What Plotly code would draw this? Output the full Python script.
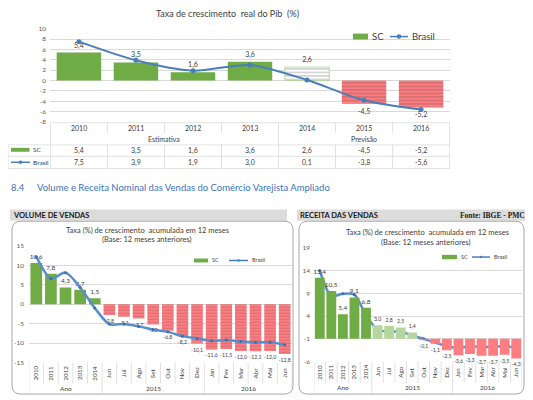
import plotly.graph_objects as go

# The page adds an 8px body margin, so the figure is sized to fit the window.
PAGE_W, PAGE_H, OFF = 533, 400, 8
W, H = PAGE_W - OFF, PAGE_H - OFF
def fx(p): return (p - OFF) / W
def fy(p): return 1 - (p - OFF) / H

# ---------------- DATA ----------------
pib_years = ["2010", "2011", "2012", "2013", "2014", "2015", "2016"]
pib_sc = [5.4, 3.5, 1.6, 3.6, 2.6, -4.5, -5.2]
pib_brasil = [7.5, 3.9, 1.9, 3.0, 0.1, -3.8, -5.6]
pib_periods = ["Estimativa", "Previsão"]
n_estimativa = 4

cat_labels = ["2010", "2011", "2012", "2013", "2014", "Jun", "Jul", "Ago", "Set",
              "Out", "Nov", "Dez", "Jan", "Fev", "Mar", "Abr", "Mai", "Jun"]
cat_groups = ["Ano"] * 5 + ["2015"] * 7 + ["2016"] * 6

vol_sc = [10.6, 7.8, 4.3, 3.7, 1.5, -2.8, -3.2, -3.7, -5.2, -6.8, -8.2, -10.1,
          -11.6, -11.5, -12.0, -12.1, -12.0, -12.8]
vol_brasil = [12.2, 6.6, 8.1, 4.3, -1.0, -5.1, -5.1, -5.7, -6.5, -7.1, -8.2, -8.8,
              -9.4, -9.2, -9.6, -9.8, -9.8, -10.4]

rec_sc = [13.4, 10.5, 5.4, 9.1, 6.8, 3.0, 2.8, 2.5, 1.4, -0.1, -1.1, -2.5,
          -3.6, -3.3, -3.7, -3.7, -3.5, -4.3]
rec_brasil = [14.0, 8.4, 8.9, 8.7, 4.2, 1.0, 0.6, 0.6, -0.3, -1.0, -1.8, -2.6,
              -3.0, -2.6, -2.8, -2.7, -2.6, -2.9]

# ---------------- STYLE ----------------
FONT = "Lato"
TXT = "#404040"
GRID = "#d9d9d9"
GREEN = "#6fac46"
LIGHT_GREEN = "#b5d79d"
HATCH_GREEN = "#a9d18e"
RED = "#ff7c80"
RED_STRIPE = "#ffb0b2"
BLUE = "#4a7ebb"

def fmt(v):
    return f"{v:.1f}".replace(".", ",")

fig = go.Figure()

# ---------------- TOP CHART ----------------
top_colors, top_shape, top_bg, top_fg, top_lw = [], [], [], [], []
for i, v in enumerate(pib_sc):
    if i < n_estimativa:
        top_colors.append(GREEN); top_shape.append(""); top_bg.append(GREEN)
        top_fg.append(GREEN); top_lw.append(0)
    elif v >= 0:
        top_colors.append("white"); top_shape.append("-"); top_bg.append("white")
        top_fg.append(HATCH_GREEN); top_lw.append(0.8)
    else:
        top_colors.append(RED); top_shape.append("-"); top_bg.append(RED)
        top_fg.append(RED_STRIPE); top_lw.append(0)

fig.add_trace(go.Bar(
    x=pib_years, y=pib_sc, xaxis="x", yaxis="y", width=0.78,
    marker=dict(color=top_colors, line=dict(width=top_lw, color=HATCH_GREEN),
                pattern=dict(shape=top_shape, bgcolor=top_bg, fgcolor=top_fg,
                             size=3.5, solidity=0.25, fgopacity=0.45)),
    text=[fmt(v) for v in pib_sc], textposition="outside", constraintext="none",
    textfont=dict(size=7, color=TXT, family=FONT), cliponaxis=False,
    showlegend=False, hoverinfo="skip"))
fig.add_trace(go.Scatter(
    x=pib_years, y=pib_brasil, xaxis="x", yaxis="y", mode="lines+markers",
    line=dict(color=BLUE, width=2, shape="spline", smoothing=0.8),
    marker=dict(size=5, color=BLUE), showlegend=False, hoverinfo="skip"))

# ---------------- BOTTOM CHARTS ----------------
idx = list(range(len(cat_labels)))

def month_colors(vals):
    out = []
    for v, g in zip(vals, cat_groups):
        if g == "Ano":
            out.append(GREEN)
        elif v >= 0:
            out.append(LIGHT_GREEN)
        else:
            out.append(RED)
    return out

lab_sizes = [6.5 if g == "Ano" else 5.2 for g in cat_groups]

vol_cols = month_colors(vol_sc)
fig.add_trace(go.Bar(
    x=idx, y=vol_sc, xaxis="x2", yaxis="y2", width=0.8,
    marker=dict(color=vol_cols, line=dict(width=0),
                pattern=dict(shape=["" if c != RED else "-" for c in vol_cols],
                             bgcolor=vol_cols,
                             fgcolor=[RED_STRIPE if c == RED else c for c in vol_cols],
                             size=3, solidity=0.2, fgopacity=0.4)),
    text=[fmt(v) for v in vol_sc], textposition="outside", constraintext="none",
    textfont=dict(size=lab_sizes, color=TXT, family=FONT), cliponaxis=False,
    showlegend=False, hoverinfo="skip"))
fig.add_trace(go.Scatter(
    x=idx, y=vol_brasil, xaxis="x2", yaxis="y2", mode="lines+markers",
    line=dict(color="#5a8dcb", width=2.5, shape="spline", smoothing=0.8),
    marker=dict(size=3, color="#3f6fa8"), showlegend=False, hoverinfo="skip"))

rec_cols = month_colors(rec_sc)
fig.add_trace(go.Bar(
    x=idx, y=rec_sc, xaxis="x3", yaxis="y4", width=0.85,
    marker=dict(color=rec_cols, line=dict(width=0)),
    text=[fmt(v) for v in rec_sc], textposition="outside", constraintext="none",
    textfont=dict(size=lab_sizes, color=TXT, family=FONT), cliponaxis=False,
    showlegend=False, hoverinfo="skip"))
fig.add_trace(go.Scatter(
    x=idx, y=rec_brasil, xaxis="x3", yaxis="y3", mode="lines+markers",
    line=dict(color="#5a8dcb", width=2.5, shape="spline", smoothing=0.8),
    marker=dict(size=3, color="#3f6fa8"), showlegend=False, hoverinfo="skip"))

# ---------------- AXES ----------------
hidden_x = dict(showticklabels=False, showgrid=False, zeroline=False, ticks="",
                showline=False, fixedrange=True)
ytick = dict(size=6.5, color="#595959", family=FONT)

def yticks(lo, hi, step):
    vals = list(range(lo, hi + 1, step))
    return dict(tickmode="array", tickvals=vals, ticktext=[str(v) for v in vals])

fig.update_layout(
    width=W, height=H, margin=dict(l=0, r=0, t=0, b=0),
    paper_bgcolor="white", plot_bgcolor="white", barmode="overlay",
    font=dict(family=FONT, color=TXT),
    xaxis=dict(domain=[fx(50), fx(450)], anchor="y", **hidden_x),
    yaxis=dict(domain=[fy(120), fy(25)], anchor="x", range=[-8, 10],
               gridcolor=GRID, gridwidth=0.8, zeroline=False, tickfont=ytick,
               ticklabelstandoff=3, **yticks(-8, 10, 2)),
    xaxis2=dict(domain=[fx(29), fx(292)], anchor="y2", range=[-0.5, len(idx) - 0.5],
                **hidden_x),
    yaxis2=dict(domain=[fy(365), fy(246)], anchor="x2", range=[-15, 15],
                gridcolor=GRID, gridwidth=0.8, zeroline=False, tickfont=ytick,
                ticklabelstandoff=4, **yticks(-15, 15, 5)),
    xaxis3=dict(domain=[fx(314), fx(522)], anchor="y3", range=[-0.5, len(idx) - 0.5],
                **hidden_x),
    yaxis3=dict(domain=[fy(364), fy(248)], anchor="x3", range=[-6, 19],
                gridcolor=GRID, gridwidth=0.8, zeroline=False, tickfont=ytick,
                ticklabelstandoff=3, **yticks(-6, 19, 5)),
    yaxis4=dict(overlaying="y3", anchor="x3", range=[-5, 20], visible=False),
)

shapes, anns = [], []

def ann(text, x, y, size=7, color=TXT, xanchor="center", xref="paper", yref="paper",
        bold=False, family=FONT, angle=0):
    anns.append(dict(text=f"<b>{text}</b>" if bold else text, x=x, y=y, xref=xref,
                     yref=yref, xanchor=xanchor, yanchor="middle", showarrow=False,
                     textangle=angle, font=dict(size=size, color=color, family=family)))

def line(x0, y0, x1, y1, xref="paper", color=GRID, width=0.8):
    shapes.append(dict(type="line", x0=x0, y0=y0, x1=x1, y1=y1, xref=xref, yref="paper",
                       line=dict(color=color, width=width)))

def rect(px0, py0, px1, py1, fill, lc=None, lw=0):
    shapes.append(dict(type="rect", x0=fx(px0), x1=fx(px1), y0=fy(py1), y1=fy(py0),
                       xref="paper", yref="paper", fillcolor=fill,
                       line=dict(color=lc or fill, width=lw)))

def circle(cx, cy, r, color):
    shapes.append(dict(type="circle", x0=fx(cx - r), x1=fx(cx + r), y0=fy(cy + r),
                       y1=fy(cy - r), xref="paper", yref="paper", fillcolor=color,
                       line=dict(width=0)))

def legend_keys(bx0, bx1, by, bh, lx0, lx1, ly, size, mr):
    rect(bx0, by - bh / 2, bx1, by + bh / 2, GREEN)
    ann("SC", fx(bx1 + 1.5), fy(by), size=size, xanchor="left")
    line(fx(lx0), fy(ly), fx(lx1), fy(ly), color=BLUE, width=1.5)
    circle((lx0 + lx1) / 2, ly, mr, BLUE)
    ann("Brasil", fx(lx1 + 1.5), fy(ly), size=size, xanchor="left")

# ---- top chart title, legend, table ----
ann("Taxa de crescimento  real do Pib  (%)", fx(227), fy(10), size=9)
legend_keys(353, 368, 33, 6, 390, 408, 33, 9.5, 2.3)

TAB_TOP, ROW1, ROW2, ROW3, TAB_BOT = 120.7, 131, 143.3, 155, 167.3
n = len(pib_years)
line(-0.5, fy(TAB_TOP), n - 0.5, fy(TAB_TOP), xref="x")
for yy in (ROW2, ROW3, TAB_BOT):
    line(fx(8), fy(yy), fx(450), fy(yy))
line(fx(8), fy(ROW2), fx(8), fy(TAB_BOT))
for i in range(n + 1):
    e = i - 0.5
    if i in (0, n, n_estimativa):
        line(e, fy(TAB_TOP), e, fy(TAB_BOT), xref="x")
    else:
        line(e, fy(TAB_TOP), e, fy(ROW1), xref="x")
        line(e, fy(ROW2), e, fy(TAB_BOT), xref="x")
for i, yr in enumerate(pib_years):
    ann(yr, i, fy(125.7), size=7, xref="x")
    ann(fmt(pib_sc[i]), i, fy(149), size=7, xref="x")
    ann(fmt(pib_brasil[i]), i, fy(161), size=7, xref="x")
ann(pib_periods[0], (n_estimativa - 1) / 2, fy(137.5), size=7, xref="x")
ann(pib_periods[1], (n_estimativa + n - 1) / 2, fy(137.5), size=7, xref="x")
rect(11, 146.3, 29.5, 150.3, GREEN)
ann("SC", fx(30.5), fy(148.5), size=6.5, xanchor="left")
line(fx(11), fy(161), fx(30), fy(161), color=BLUE, width=1.5)
circle(20.5, 161, 1.8, BLUE)
ann("Brasil", fx(30.5), fy(161), size=6.5, xanchor="left")

# ---- section heading ----
ann("8.4", fx(9), fy(187), size=9.5, color="#3b72b8", xanchor="left")
ann("Volume e Receita Nominal das Vendas do Comércio Varejista Ampliado", fx(35),
    fy(187), size=9.5, color="#3b72b8", xanchor="left")

# ---- panel headers and frames ----
rect(10, 209, 287, 220.5, "#dcdcdc")
rect(297, 209, 528, 220.5, "#dcdcdc")
ann("VOLUME DE VENDAS", fx(11), fy(215), size=7.5, color="#1a1a1a", xanchor="left", bold=True)
ann("RECEITA DAS VENDAS", fx(298), fy(215), size=7.5, color="#1a1a1a", xanchor="left", bold=True)
ann("Fonte: IBGE - PMC", fx(527), fy(215), size=7.5, color="#1a1a1a", xanchor="right",
    bold=True, family="Liberation Serif")

def rounded(px0, py0, px1, py1, r):
    rx, ry = r / W, r / H
    X0, X1, Y0, Y1 = fx(px0), fx(px1), fy(py0), fy(py1)
    p = (f"M{X0+rx},{Y0} L{X1-rx},{Y0} Q{X1},{Y0} {X1},{Y0-ry} L{X1},{Y1+ry} "
         f"Q{X1},{Y1} {X1-rx},{Y1} L{X0+rx},{Y1} Q{X0},{Y1} {X0},{Y1+ry} "
         f"L{X0},{Y0-ry} Q{X0},{Y0} {X0+rx},{Y0} Z")
    shapes.append(dict(type="path", path=p, xref="paper", yref="paper",
                       line=dict(color="#a6a6a6", width=1)))

rounded(12, 221, 293, 397, 9)
rounded(299, 221, 524, 397, 9)

# ---- bottom chart titles & legends ----
ann("Taxa (%) de crescimento  acumulada em 12 meses", fx(147), fy(230.5), size=7.5)
ann("(Base: 12 meses anteriores)", fx(147), fy(239.5), size=7.5)
ann("Taxa (%) de crescimento  acumulada em 12 meses", fx(427), fy(233), size=7.5)
ann("(Base: 12 meses anteriores)", fx(426), fy(243), size=7.5)
legend_keys(194, 208, 261, 4, 229, 248, 261, 5.5, 1.2)
legend_keys(442, 457, 257.5, 4.5, 472, 490, 257.5, 5.5, 1.2)

# ---- category labels, separators and groups ----
def cat_axis(xref, ax_py, lab_py, grp_py, bot_py, sep_py):
    m = len(cat_labels)
    for i, lab in enumerate(cat_labels):
        ann(lab, i, fy(lab_py), size=6.2, xref=xref, angle=-90)
    starts = [0] + [i for i in range(1, m) if cat_groups[i] != cat_groups[i - 1]] + [m]
    for i in range(m + 1):
        e = i - 0.5
        if i in starts:
            line(e, fy(ax_py), e, fy(bot_py), xref=xref)
        else:
            line(e, fy(ax_py), e, fy(sep_py), xref=xref)
    for a, b in zip(starts[:-1], starts[1:]):
        ann(cat_groups[a], (a + b - 1) / 2, fy(grp_py), size=6.5, xref=xref)

cat_axis("x2", 365, 375.5, 391.5, 397, 386.5)
cat_axis("x3", 364, 374.5, 390, 397, 385.5)

fig.update_layout(shapes=shapes, annotations=anns)
fig.write_html("out.html")
